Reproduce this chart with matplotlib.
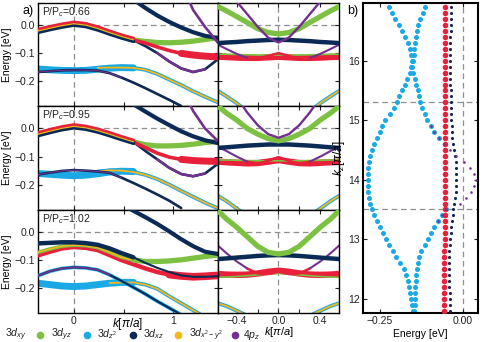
import numpy as np
import matplotlib
matplotlib.use('Agg')
import matplotlib.pyplot as plt
from matplotlib.transforms import ScaledTranslation
from matplotlib.lines import Line2D
from matplotlib.ticker import FixedLocator, FixedFormatter, FuncFormatter

plt.rcParams['font.family'] = ['Liberation Sans', 'DejaVu Sans']
plt.rcParams['mathtext.fontset'] = 'custom'
plt.rcParams['mathtext.rm'] = 'Liberation Sans'
plt.rcParams['mathtext.it'] = 'Liberation Sans:italic'
plt.rcParams['mathtext.bf'] = 'Liberation Sans:bold'

# ---------------- colours / labels ----------------
C_XY = '#E8203A'    # 3d_xy  red
C_YZ = '#7CC142'    # 3d_yz  green
C_Z2 = '#1BA9E6'    # 3d_z2  light blue
C_XZ = '#0B2A55'    # 3d_xz  navy
C_X2Y2 = '#F7B718'  # 3d_x2-y2 orange
C_PZ = '#74308F'    # 4p_z purple
orb_labels = [r'$\mathit{3d_{xy}}$', r'$\mathit{3d_{yz}}$', r'$\mathit{3d_{z^2}}$',
              r'$\mathit{3d_{xz}}$', r'$\mathit{3d_{x^2-y^2}}$', r'$\mathit{4p_z}$']
orb_colors = [C_XY, C_YZ, C_Z2, C_XZ, C_X2Y2, C_PZ]
ratios = ['0.66', '0.95', '1.02']

# ---------------- k grids ----------------
KL = [-0.36, -0.24, -0.12, 0.0, 0.12, 0.24, 0.36, 0.48, 0.6, 0.72, 0.84, 0.96, 1.08, 1.2, 1.32, 1.45]
KM = [-0.58, -0.5, -0.4, -0.3, -0.2, -0.1, 0.0, 0.1, 0.2, 0.3, 0.4, 0.5, 0.58]

# ---------------- row 1 (P/Pc = 0.66) ----------------
r1_top = [-0.021, -0.011, -0.002, 0.005, 0.0, -0.012, -0.027, -0.041, -0.053]
r1_green = [-0.053, -0.058, -0.062, -0.063, -0.061, -0.057, -0.051, -0.045]
r1_red = [-0.053, -0.064, -0.078, -0.091, -0.101, -0.107, -0.111, -0.114]
r1_deep = [-0.053, -0.075, -0.100, -0.130, -0.155, -0.168, -0.158, -0.122]
r1_xz_top = [0.12, 0.092, 0.062, 0.035, 0.012, -0.008, -0.025, -0.038, -0.046]
r1_pz_top = [0.15, 0.055, -0.006, -0.063]
r1_z2_flat = [-0.157, -0.160, -0.162, -0.163, -0.162, -0.158, -0.154, -0.152, -0.153]
r1_x2y2 = [-0.153, -0.152, -0.152, -0.153, -0.160, -0.175, -0.195, -0.215, -0.237, -0.257, -0.277]
r1_low = [-0.168, -0.165, -0.162, -0.161, -0.161, -0.163, -0.172, -0.188, -0.206, -0.226, -0.247, -0.268, -0.290]
r1m_green = [0.067, 0.052, 0.031, 0.010, -0.012, -0.026, -0.031, -0.026, -0.012, 0.010, 0.031, 0.052, 0.067]
r1m_pz = [0.20, 0.15, 0.085, 0.040, -0.005, -0.044, -0.062, -0.044, -0.005, 0.040, 0.085, 0.15, 0.20]
r1m_xz = [-0.064, -0.062, -0.060, -0.057, -0.055, -0.053, -0.052, -0.053, -0.055, -0.057, -0.060, -0.062, -0.064]
r1m_w = [-0.070, -0.085, -0.103, -0.117, -0.120, -0.110, -0.100, -0.110, -0.120, -0.117, -0.103, -0.085, -0.070]
r1m_red = [-0.113, -0.114, -0.116, -0.117, -0.117, -0.115, -0.113, -0.115, -0.117, -0.117, -0.116, -0.114, -0.113]
r1m_yz = [-0.104, -0.104, -0.105, -0.106, -0.107, -0.107, -0.107, -0.107, -0.107, -0.106, -0.105, -0.104, -0.104]
r1m_x2y2 = [-0.236, -0.255, -0.280, -0.310]

# ---------------- row 2 (P/Pc = 0.95) ----------------
r2_top = [-0.021, -0.010, 0.0, 0.007, 0.002, -0.008, -0.021, -0.035, -0.048]
r2_green = [-0.048, -0.058, -0.062, -0.062, -0.060, -0.056, -0.050, -0.046]
r2_red = [-0.048, -0.068, -0.088, -0.102, -0.110, -0.114, -0.116, -0.117]
r2_deep = [-0.048, -0.080, -0.110, -0.140, -0.162, -0.170, -0.160, -0.125]
r2_xz_top = [0.12, 0.086, 0.060, 0.035, 0.012, -0.010, -0.028, -0.042, -0.052]
r2_pz_top = [0.15, 0.062, 0.0, -0.045]
r2_z2_flat = [-0.160, -0.163, -0.166, -0.168, -0.166, -0.161, -0.155, -0.152, -0.153]
r2_x2y2 = [-0.153, -0.149, -0.150, -0.155, -0.165, -0.180, -0.200, -0.222, -0.243, -0.264, -0.284]
r2_low = [-0.164, -0.157, -0.151, -0.148, -0.150, -0.153, -0.158, -0.175, -0.194, -0.214, -0.235, -0.257, -0.283]
r2m_green = [0.080, 0.055, 0.030, 0.0, -0.020, -0.036, -0.044, -0.036, -0.020, 0.0, 0.030, 0.055, 0.080]
r2m_pz = [0.25, 0.17, 0.11, 0.057, 0.012, -0.020, -0.033, -0.020, 0.012, 0.057, 0.11, 0.17, 0.25]
r2m_xz = [-0.069, -0.067, -0.064, -0.061, -0.059, -0.057, -0.057, -0.057, -0.059, -0.061, -0.064, -0.067, -0.069]
r2m_w = [-0.066, -0.080, -0.100, -0.118, -0.125, -0.115, -0.102, -0.115, -0.125, -0.118, -0.100, -0.080, -0.066]
r2m_red = [-0.118, -0.120, -0.122, -0.124, -0.123, -0.118, -0.112, -0.118, -0.123, -0.124, -0.122, -0.120, -0.118]
r2m_yz = [-0.112, -0.112, -0.113, -0.114, -0.115, -0.115, -0.115, -0.115, -0.115, -0.114, -0.113, -0.112, -0.112]
r2m_x2y2 = [-0.240, -0.258, -0.285, -0.310]

# ---------------- row 3 (P/Pc = 1.02) ----------------
r3_xz = [-0.040, -0.038, -0.036, -0.036, -0.039, -0.045, -0.058, -0.075, -0.090, -0.110, -0.128, -0.143, -0.155, -0.160, -0.160, -0.158]
r3_yz = [-0.072, -0.060, -0.050, -0.046, -0.048, -0.055, -0.072, -0.090, -0.100, -0.105, -0.105, -0.103, -0.099, -0.093, -0.087, -0.082]
r3_xy = [-0.083, -0.070, -0.058, -0.053, -0.056, -0.064, -0.082, -0.100, -0.115, -0.130, -0.143, -0.152, -0.157, -0.160, -0.158, -0.155]
r3_xz_top = [0.10, 0.077, 0.054, 0.030, 0.003, -0.025, -0.050, -0.070, -0.078]
r3_low = [-0.156, -0.140, -0.130, -0.126, -0.128, -0.135, -0.153, -0.175, -0.198, -0.222, -0.248, -0.272, -0.296]
r3_z2_flat = [-0.183, -0.188, -0.193, -0.195, -0.193, -0.188, -0.183, -0.180, -0.180]
r3_x2y2 = [-0.182, -0.181, -0.180, -0.188, -0.203, -0.230, -0.255, -0.280, -0.305, -0.330]
r3m_green = [0.077, 0.048, 0.018, -0.016, -0.050, -0.072, -0.078, -0.072, -0.050, -0.016, 0.018, 0.048, 0.077]
r3m_xz = [-0.096, -0.094, -0.091, -0.088, -0.085, -0.083, -0.082, -0.083, -0.085, -0.088, -0.091, -0.094, -0.096]
r3m_w = [-0.048, -0.075, -0.105, -0.130, -0.148, -0.150, -0.142, -0.150, -0.148, -0.130, -0.105, -0.075, -0.048]
r3m_red = [-0.150, -0.152, -0.153, -0.152, -0.148, -0.142, -0.138, -0.142, -0.148, -0.152, -0.153, -0.152, -0.150]
r3m_yz = [-0.162, -0.161, -0.159, -0.156, -0.153, -0.150, -0.148, -0.150, -0.153, -0.156, -0.159, -0.161, -0.162]
r3m_x2y2 = [-0.255, -0.265, -0.282, -0.300]

# ---------------- panel b (kz scan) ----------------
kz = [11.8, 11.9, 12.0, 12.1, 12.2, 12.3, 12.4, 12.5, 12.6, 12.7,
      12.8, 12.9, 13.0, 13.1, 13.2, 13.3, 13.4, 13.5, 13.6, 13.7,
      13.8, 13.9, 14.0, 14.1, 14.2, 14.3, 14.4, 14.5, 14.6, 14.7,
      14.8, 14.9, 15.0, 15.1, 15.2, 15.3, 15.4, 15.5, 15.6, 15.7,
      15.8, 15.9, 16.0, 16.1, 16.2, 16.3, 16.4, 16.5, 16.6, 16.7,
      16.8, 16.9]
b_xy = [-0.056, -0.056, -0.056, -0.055, -0.055, -0.055, -0.055, -0.055, -0.055, -0.055,
        -0.055, -0.054, -0.054, -0.054, -0.054, -0.054, -0.054, -0.054, -0.054, -0.054,
        -0.054, -0.054, -0.054, -0.054, -0.054, -0.054, -0.054, -0.054, -0.054, -0.054,
        -0.054, -0.054, -0.054, -0.054, -0.054, -0.054, -0.054, -0.054, -0.054, -0.054,
        -0.054, -0.054, -0.054, -0.054, -0.053, -0.053, -0.053, -0.053, -0.053, -0.053,
        -0.053, -0.053]
b_xz = [-0.037, -0.037, -0.038, -0.039, -0.040, -0.041, -0.042, -0.042, -0.042, -0.041,
        -0.040, -0.039, -0.038, -0.036, -0.034, -0.032, -0.030, -0.028, -0.025, -0.023,
        -0.021, -0.020, -0.019, -0.019, -0.020, -0.021, -0.023, -0.026, -0.029, -0.031,
        -0.032, -0.033, -0.034, -0.035, -0.035, -0.036, -0.036, -0.036, -0.037, -0.037,
        -0.037, -0.037, -0.037, -0.037, -0.037, -0.037, -0.037, -0.036, -0.036, -0.036,
        -0.036, -0.036]
b_z2_a = [-0.150, -0.153, -0.156, -0.160, -0.163, -0.166, -0.170, -0.177, -0.190, -0.200,
          -0.210, -0.222, -0.232, -0.241, -0.249, -0.257, -0.266, -0.274, -0.279, -0.282,
          -0.284, -0.285, -0.286, -0.286, -0.285, -0.283, -0.278, -0.273, -0.268, -0.259,
          -0.250, -0.242, -0.233, -0.220, -0.208, -0.199, -0.191, -0.184, -0.175, -0.167,
          -0.160, -0.155, -0.151, -0.148, -0.146, -0.144, -0.142, -0.139, -0.134, -0.128,
          -0.120, -0.112]
nan = float('nan')
b_z2_b = [-0.146, -0.145, -0.144, -0.143, -0.143, -0.142, -0.140, -0.138, -0.136, -0.131,
          -0.124, -0.114, -0.105, -0.095, -0.086, -0.073, -0.062, -0.050, nan, nan,
          nan, nan, nan, nan, nan, nan, nan, nan, nan, -0.071,
          -0.085, -0.096, -0.106, -0.114, -0.122, -0.128, -0.131, -0.134, -0.140, -0.144,
          -0.149, -0.152, -0.153, -0.156, -0.160, -0.166, -0.175, -0.184, -0.193, -0.203,
          -0.213, -0.223]
kz_pz = [13.3, 13.4, 13.5, 13.6, 13.7, 13.8, 13.9, 14.0, 14.1, 14.2, 14.3, 14.4, 14.5, 14.6, 14.7, 14.8, 14.9]
b_pz = [-0.073, -0.062, -0.050, -0.008, 0.010, 0.024, 0.034, 0.040, 0.033, 0.021, 0.004, -0.020, -0.038, -0.055, -0.071, -0.085, -0.096]
b_hlines = [15.3, 13.5]

# ---------------- figure ----------------
W, H = 485, 342
fig = plt.figure(figsize=(W / 100, H / 100), dpi=100)


def box(x0, y0, x1, y1):
    return [x0 / W, 1 - y1 / H, (x1 - x0) / W, (y1 - y0) / H]


rows_px = [(3, 106), (106, 210), (210, 313)]
axL = [fig.add_axes(box(38, a, 218, b)) for a, b in rows_px]
axM = [fig.add_axes(box(218, a, 339, b)) for a, b in rows_px]
axB = fig.add_axes(box(363, 3, 478, 313))

dash = dict(color='#8f8f8f', lw=0.9, ls=(0, (4.5, 3)), zorder=0.5)


def mfmt(dec):
    def f(v, p):
        if abs(v) < 1e-9:
            v = 0.0
        return f'{v:.{dec}f}'.replace('-', '\u2212')
    return FuncFormatter(f)


def line(ax, k, e, color, lw, dy=0.0, z=2):
    tr = ax.transData + ScaledTranslation(0, dy / 72, fig.dpi_scale_trans)
    ax.plot(k, e, color=color, lw=lw, transform=tr, solid_capstyle='round',
            solid_joinstyle='round', zorder=z)


def style(ax, lw=1.0):
    for s in ax.spines.values():
        s.set_linewidth(lw)
        s.set_color('black')
    ax.tick_params(direction='in', length=3, width=0.8, top=True, right=True,
                   labelsize=7.5, pad=2.2, colors='#222222')


def draw_left_ab(ax, top, green, red, deep, xz_top, pz_top, z2_flat, x2y2, low):
    line(ax, KL[:len(z2_flat)], z2_flat, C_Z2, 5.0, z=1)
    kk = KL[-len(x2y2):]
    line(ax, kk, x2y2, C_Z2, 2.8, z=2)
    line(ax, kk, x2y2, C_X2Y2, 1.3, z=2.1)
    kl = KL[:len(low)]
    line(ax, kl, low, C_XZ, 1.9, z=3)
    line(ax, kl[:8], low[:8], C_PZ, 0.8, z=3.1)
    line(ax, KL[8:], green, C_YZ, 3.8, z=4)
    line(ax, KL[8:], deep, C_XZ, 1.9, z=4.2)
    line(ax, KL[10:15], deep[2:7], C_PZ, 1.7, z=4.3)
    line(ax, KL[8:], red, C_XY, 2.6, z=4.4)
    line(ax, KL[12:], red[4:], C_XY, 5.0, z=4.4)
    line(ax, KL[:9], top, C_XY, 2.4, dy=1.2, z=5)
    line(ax, KL[:9], top, C_XZ, 2.6, dy=-0.9, z=5.1)
    line(ax, KL[:9], top, C_X2Y2, 0.9, dy=0.1, z=5.2)
    line(ax, KL[7:], xz_top, C_XZ, 3.0, z=6)
    line(ax, KL[12:], pz_top, C_PZ, 1.9, z=6.1)


def draw_mid(ax, green, pz, xz, w, red, yz, x2y2):
    line(ax, KM, red, C_XY, 4.6, z=2)
    line(ax, KM, yz, C_YZ, 1.2, z=2.2)
    line(ax, KM[3:10], w[3:10], C_XY, 1.8, z=2.3)
    line(ax, KM[:4], w[:4], C_PZ, 1.5, z=2.4)
    line(ax, KM[9:], w[9:], C_PZ, 1.5, z=2.4)
    line(ax, KM, xz, C_XZ, 3.2, z=3)
    line(ax, KM, green, C_YZ, 3.8, z=4)
    if pz is not None:
        line(ax, KM, pz, C_PZ, 1.7, z=5)
    line(ax, KM[:4], x2y2, C_Z2, 2.8, z=2)
    line(ax, KM[:4], x2y2, C_X2Y2, 1.3, z=2.1)
    line(ax, KM[9:], x2y2[::-1], C_Z2, 2.8, z=2)
    line(ax, KM[9:], x2y2[::-1], C_X2Y2, 1.3, z=2.1)


# row 1 & 2
draw_left_ab(axL[0], r1_top, r1_green, r1_red, r1_deep, r1_xz_top, r1_pz_top, r1_z2_flat, r1_x2y2, r1_low)
draw_left_ab(axL[1], r2_top, r2_green, r2_red, r2_deep, r2_xz_top, r2_pz_top, r2_z2_flat, r2_x2y2, r2_low)
draw_mid(axM[0], r1m_green, r1m_pz, r1m_xz, r1m_w, r1m_red, r1m_yz, r1m_x2y2)
draw_mid(axM[1], r2m_green, r2m_pz, r2m_xz, r2m_w, r2m_red, r2m_yz, r2m_x2y2)

# row 3 left
ax = axL[2]
line(ax, KL[:len(r3_z2_flat)], r3_z2_flat, C_Z2, 5.0, z=1)
line(ax, KL[6:], r3_x2y2, C_Z2, 2.8, z=2)
line(ax, KL[6:], r3_x2y2, C_X2Y2, 1.3, z=2.1)
line(ax, KL[:len(r3_low)], r3_low, C_Z2, 2.6, z=3)
line(ax, KL[:len(r3_low)], r3_low, C_XZ, 1.5, z=3.05)
line(ax, KL[:7], r3_low[:7], C_PZ, 1.2, z=3.1)
line(ax, KL, r3_xy, C_XY, 3.2, z=4)
line(ax, KL[11:], r3_xy[11:], C_XY, 5.5, z=4)
line(ax, KL[:10], r3_yz[:10], C_YZ, 2.6, z=4.5)
line(ax, KL[:10], r3_yz[:10], C_X2Y2, 1.0, z=4.6)
line(ax, KL[8:], r3_yz[8:], C_YZ, 3.8, z=4.7)
line(ax, KL[:9], r3_xz[:9], C_XZ, 3.2, z=5)
line(ax, KL[8:], r3_xz[8:], C_XZ, 1.5, z=5)
line(ax, KL[7:], r3_xz_top, C_XZ, 3.0, z=6)
draw_mid(axM[2], r3m_green, None, r3m_xz, r3m_w, r3m_red, r3m_yz, r3m_x2y2)

for i in range(3):
    a, m = axL[i], axM[i]
    for x in (a, m):
        style(x)
        x.set_ylim(-0.29, 0.08)
        x.axhline(0, **dash)
        x.axvline(0, **dash)
        x.yaxis.set_major_locator(FixedLocator([-0.2, -0.1, 0.0]))
    a.set_xlim(-0.36, 1.45)
    m.set_xlim(-0.58, 0.58)
    a.yaxis.set_major_formatter(mfmt(1))
    m.tick_params(labelleft=False)
    a.xaxis.set_major_locator(FixedLocator([0, 0.5, 1.0]))
    a.xaxis.set_major_formatter(FixedFormatter(['0', '', '1']))
    m.xaxis.set_major_locator(FixedLocator([-0.4, -0.2, 0.0, 0.2, 0.4]))
    m.xaxis.set_major_formatter(FixedFormatter(['\u22120.4', '', '0.0', '', '0.4']))
    a.set_ylabel('Energy [eV]', fontsize=7.5, labelpad=2)
    a.text(0.02, 0.975, 'P/P$_c$=' + ratios[i], transform=a.transAxes, fontsize=7.5,
           va='top', ha='left', color='#222222')
    if i < 2:
        a.tick_params(labelbottom=False)
        m.tick_params(labelbottom=False)

axL[2].set_xlabel(r'$k[\pi/a]$', fontsize=8.5, labelpad=-7.5)
axM[2].set_xlabel(r'$k[\pi/a]$', fontsize=8, labelpad=-0.5)

# panel b
style(axB, 1.5)
axB.scatter(b_z2_a, kz, s=13, color=C_Z2, linewidths=0, zorder=2)
axB.scatter(b_z2_b, kz, s=13, color=C_Z2, linewidths=0, zorder=2)
axB.scatter(b_xy, kz, s=16, color=C_XY, linewidths=0, zorder=3)
axB.scatter(b_xz, kz, s=5, color=C_XZ, linewidths=0, zorder=4)
axB.scatter(b_pz, kz_pz, s=3.5, color=C_PZ, linewidths=0, zorder=5)
axB.axvline(0, **dash)
for h in b_hlines:
    axB.axhline(h, **dash)
axB.set_xlim(-0.30, 0.046)
axB.set_ylim(11.76, 16.97)
axB.xaxis.set_major_locator(FixedLocator([-0.25, 0.0]))
axB.xaxis.set_major_formatter(mfmt(2))
axB.yaxis.set_major_locator(FixedLocator([12, 13, 14, 15, 16]))
axB.set_xlabel('Energy [eV]', fontsize=7.5, labelpad=2)
axB.set_ylabel(r'$k_z[\pi/a]$', fontsize=8.5, labelpad=1)

fig.text(23 / W, 1 - 11 / H, 'a)', fontsize=9, va='center', ha='left')
fig.text(347 / W, 1 - 11 / H, 'b)', fontsize=9, va='center', ha='left')

# legend row (marker before each label; first marker falls off the canvas)
marker_x = [-6, 40, 87, 133, 178, 235]
text_x = [5, 51, 97, 143, 189, 243]
ly = 1 - 334.5 / H
for mx, tx, lab, col in zip(marker_x, text_x, orb_labels, orb_colors):
    fig.add_artist(Line2D([mx / W], [ly], marker='o', ms=4.5, color=col, mec=col,
                          ls='none', transform=fig.transFigure))
    fig.text(tx / W, ly, lab, fontsize=7.6, va='center', ha='left', color='#222222')

fig.savefig('out.png', dpi=100)
